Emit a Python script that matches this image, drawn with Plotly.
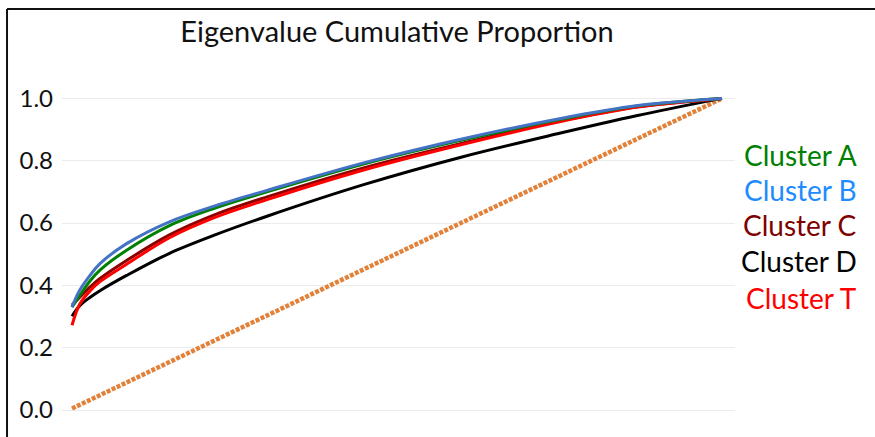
import plotly.graph_objects as go

# Fraction of components retained (x) and cumulative eigenvalue proportion (y)
component_fraction = [0, 0.012, 0.028, 0.043, 0.084, 0.15, 0.22, 0.30,
                      0.45, 0.60, 0.75, 0.87, 0.98, 1.0]

cluster_a = [0.330, 0.368, 0.415, 0.449, 0.513, 0.592, 0.648, 0.700,
             0.790, 0.866, 0.932, 0.976, 0.997, 1.0]
cluster_b = [0.331, 0.385, 0.433, 0.470, 0.534, 0.604, 0.655, 0.705,
             0.794, 0.870, 0.935, 0.977, 0.997, 1.0]
cluster_c = [0.337, 0.362, 0.395, 0.422, 0.480, 0.562, 0.627, 0.684,
             0.778, 0.856, 0.927, 0.973, 0.996, 1.0]
cluster_d = [0.301, 0.335, 0.362, 0.383, 0.432, 0.503, 0.562, 0.622,
             0.724, 0.812, 0.888, 0.945, 0.992, 1.0]
cluster_t = [0.272, 0.340, 0.383, 0.412, 0.468, 0.553, 0.618, 0.675,
             0.771, 0.852, 0.925, 0.972, 0.996, 1.0]

# Equal-eigenvalue reference line
uniform_x = [0, 1.0]
uniform_y = [0.005, 1.0]

names = ["Cluster A", "Cluster B", "Cluster C", "Cluster D", "Cluster T"]
series = [cluster_a, cluster_b, cluster_c, cluster_d, cluster_t]
line_colors = ["#008000", "#4472C4", "#8B0000", "#000000", "#FF0000"]
label_colors = ["#008000", "#1E8CFF", "#800000", "#000000", "#FF0000"]
draw_order = [3, 2, 4, 0, 1]

y_ticks = [0.0, 0.2, 0.4, 0.6, 0.8, 1.0]
y_tick_text = ["0.0", "0.2", "0.4", "0.6", "0.8", "1.0"]

FONT = "Lato"

fig = go.Figure()

fig.add_trace(go.Scatter(
    x=uniform_x, y=uniform_y, mode="lines",
    line=dict(color="#E2823A", width=4.5, dash="4px,1.5px"),
    showlegend=False, hoverinfo="skip",
))

for i in draw_order:
    fig.add_trace(go.Scatter(
        x=component_fraction, y=series[i], mode="lines", name=names[i],
        line=dict(color=line_colors[i], width=3, shape="spline", smoothing=1.0),
        showlegend=False,
    ))

# Coloured series labels at the right
label_y = [0.82, 0.707, 0.593, 0.478, 0.36]
for name, col, yy in zip(names, label_colors, label_y):
    fig.add_annotation(
        x=1.0, xref="paper", xanchor="right", xshift=124,
        y=yy, yref="y", yanchor="middle",
        text=name, showarrow=False,
        font=dict(family=FONT, size=28, color=col),
    )

# Frame lines along the left and top of the chart area
fig.add_shape(type="line", xref="paper", yref="paper",
              x0=-0.0817, x1=-0.0817, y0=-0.2, y1=1.139,
              line=dict(color="#111111", width=2))
fig.add_shape(type="line", xref="paper", yref="paper",
              x0=-0.0817, x1=1.3, y0=1.139, y1=1.139,
              line=dict(color="#111111", width=2))

fig.update_layout(
    width=875, height=437,
    margin=dict(l=62, r=140, t=61, b=2),
    paper_bgcolor="white", plot_bgcolor="white",
    title=dict(text="Eigenvalue Cumulative Proportion",
               x=397 / 875, xanchor="center", y=1 - 32 / 437, yanchor="middle",
               font=dict(family=FONT, size=29, color="#111111")),
    xaxis=dict(range=[-0.0154, 1.02], showgrid=False, zeroline=False,
               showticklabels=False, showline=False, ticks=""),
    yaxis=dict(range=[-0.08, 1.12], tickvals=y_ticks, ticktext=y_tick_text,
               showgrid=True, gridcolor="#EBEBEB", gridwidth=1,
               zeroline=False, showline=False, ticks="",
               ticklabelstandoff=8,
               tickfont=dict(family=FONT, size=24, color="#111111")),
    showlegend=False,
)

fig.write_html("out.html")
